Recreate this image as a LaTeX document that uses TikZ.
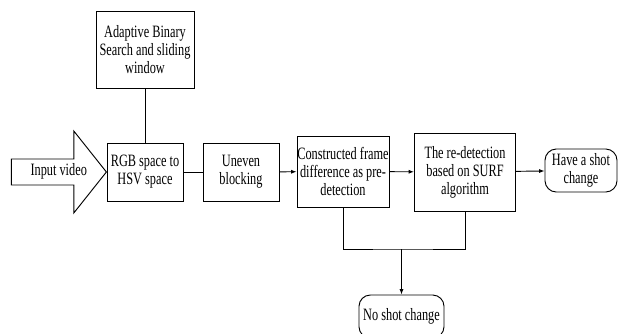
\documentclass[tikz,border=0pt]{standalone}
\usepackage{fontspec}
\setmainfont{Liberation Serif}[FakeStretch=0.71]
\usetikzlibrary{shapes.arrows, arrows.meta, positioning}

\tikzset{
  blk/.style={draw, rectangle, align=center, inner sep=0pt, font=\fontsize{13}{13.5}\selectfont},
  term/.style={draw, rectangle, rounded corners=8.5pt, align=center, inner sep=0pt, font=\fontsize{13}{13.5}\selectfont}
}

\begin{document}
\begin{tikzpicture}[x=0.75pt, y=-0.75pt, line width=0.7pt, >={Latex[length=4pt,width=3pt]}]
\useasboundingbox (0,0) rectangle (618,333);

% side input
\node[blk, minimum width=73.5pt, minimum height=57.75pt] (adapt) at (145,49.5) {Adaptive Binary\\Search and sliding\\window};

% main chain
\node[single arrow, draw, anchor=tip, minimum height=71.25pt, single arrow head extend=21pt,
      single arrow tip angle=103, inner xsep=2pt, inner ysep=4.9pt, text height=7pt, text depth=2pt,
      font=\fontsize{13}{13.5}\selectfont] (input) at (107,172) {\hspace{7.5pt}Input video};
\node[blk, minimum width=57pt, minimum height=43.5pt] (rgb) at (145,172) {RGB space to\\HSV space};
\node[blk, minimum width=57pt, minimum height=43.5pt] (uneven) at (241,172) {Uneven\\blocking};
\node[blk, minimum width=69pt, minimum height=53.25pt] (frame) at (343,171.5) {Constructed frame\\difference as pre-\\detection};
\node[blk, minimum width=75.75pt, minimum height=58.5pt] (surf) at (465,172) {The re-detection\\based on SURF\\algorithm};

% outcomes
\node[term, minimum width=54pt, minimum height=32.25pt] (shot) at (581,170.5) {Have a shot\\change};
\node[term, minimum width=63.75pt, minimum height=32.25pt] (noshot) at (401.5,316.5) {No shot change};

% connectors
\draw (adapt) -- (rgb);
\draw (rgb) -- (uneven);
\draw[->] (uneven) -- (frame);
\draw[->] (frame) -- (surf);
\draw[->] (surf) -- (shot);

\coordinate (join) at (401.5,249);
\draw (frame.south) |- (join) -| (surf.south);
\draw[->] (join) -- (noshot.north);
\end{tikzpicture}
\end{document}
